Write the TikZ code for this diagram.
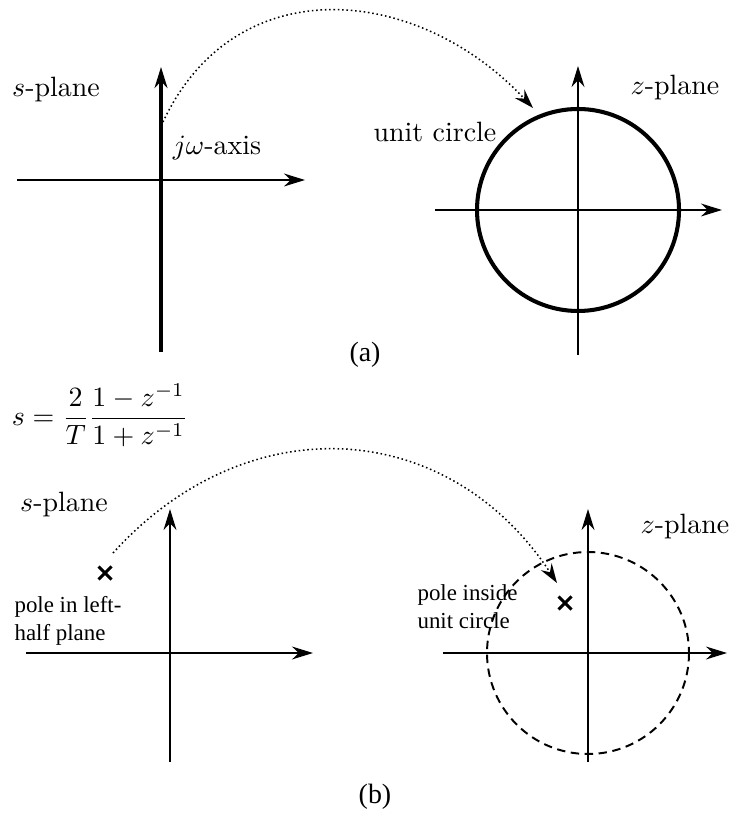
\documentclass[tikz,border=0pt]{standalone}
\usepackage{fontspec}
\newfontfamily\tnr{Liberation Serif}
\usetikzlibrary{arrows.meta}
\tikzset{
  ax/.style={line width=.7pt,-{Stealth[length=7.5pt,width=4.6pt,inset=2.4pt]}},
  thk/.style={line width=1.45pt},
  mapto/.style={line width=.55pt,densely dotted,-{Stealth[length=7pt,width=4.6pt,inset=2.4pt]}},
  pole/.style={line width=1.1pt},
  lbl/.style={anchor=base},
  note/.style={font=\tnr\fontsize{8.2}{9.9}\selectfont,align=left,anchor=north west,inner sep=0pt}
}
\begin{document}
\begin{tikzpicture}[x=0.358pt,y=-0.358pt]
\useasboundingbox (0,0) rectangle (730,814);
% (a): j omega axis onto the unit circle
\coordinate (sAw) at (17,180); \coordinate (sAe) at (305,180);
\coordinate (sAs) at (161,352); \coordinate (sAn) at (161,67);
\coordinate (zAw) at (435,210); \coordinate (zAe) at (722,210);
\coordinate (zAs) at (578,355); \coordinate (zAn) at (578,66);
\coordinate (zA) at (578,210);
\draw[ax] (sAw)--(sAe); \draw[ax,thk] (sAs)--(sAn);
\draw[ax] (zAw)--(zAe); \draw[ax] (zAs)--(zAn);
\draw[thk] (zA) circle (101);
\coordinate (jw) at (163,122); \coordinate (uc) at (533,108);
\draw[mapto] (jw) .. controls (235,-32) and (417,-16) .. (uc);
\node[lbl] (sAlbl) at (56,97) {$s$-plane};
\node[lbl] (jwlbl) at (217,155) {$j\omega$-axis};
\node[lbl] (uclbl) at (435,142) {unit circle};
\node[lbl] (zAlbl) at (675,95) {$z$-plane};
\node[font=\tnr] (capA) at (365,355) {(a)};
% bilinear map
\node (blt) at (100,415) {$\displaystyle s=\frac{2}{T}\frac{1-z^{-1}}{1+z^{-1}}$};
% (b): left-half plane pole moves inside the circle
\coordinate (sBw) at (26,653); \coordinate (sBe) at (313,653);
\coordinate (sBs) at (170,762); \coordinate (sBn) at (170,509);
\coordinate (zBw) at (443,653); \coordinate (zBe) at (727,653);
\coordinate (zBs) at (588,762); \coordinate (zBn) at (588,509);
\coordinate (zB) at (588,653);
\draw[ax] (sBw)--(sBe); \draw[ax] (sBs)--(sBn);
\draw[ax] (zBw)--(zBe); \draw[ax] (zBs)--(zBn);
\draw[line width=.7pt,dash pattern=on 3pt off 2pt] (zB) circle (101);
\coordinate (ps) at (105,573); \coordinate (pz) at (565,603);
\draw[pole] (ps) +(-6.5,-6.5) -- +(6.5,6.5) (ps) +(-6.5,6.5) -- +(6.5,-6.5);
\draw[pole] (pz) +(-6.5,-6.5) -- +(6.5,6.5) (pz) +(-6.5,6.5) -- +(6.5,-6.5);
\coordinate (lp) at (113,553); \coordinate (ip) at (557,583);
\draw[mapto] (lp) .. controls (247,405) and (448,417) .. (ip);
\node[lbl] (sBlbl) at (64,512) {$s$-plane};
\node[lbl] (zBlbl) at (685,533) {$z$-plane};
\node[note] (lhp) at (14,596) {pole in left-\\half plane};
\node[note] (inu) at (417,584) {pole inside\\unit circle};
\node[font=\tnr] (capB) at (375,797) {(b)};
\end{tikzpicture}
\end{document}
